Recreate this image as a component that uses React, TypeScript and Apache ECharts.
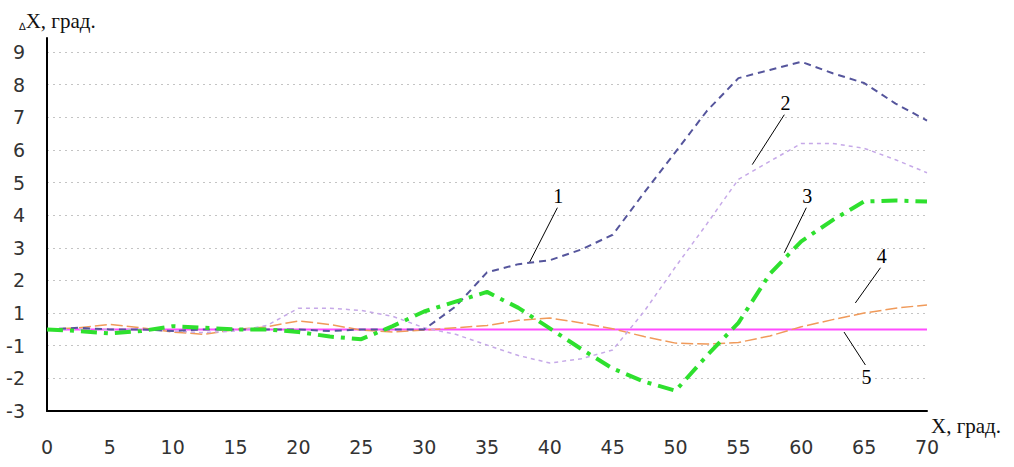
import React, { useEffect, useRef } from "react";
import * as echarts from "echarts";

// Shared x positions (degrees)
const xValues = [0, 2.5, 5, 7.5, 10, 12.5, 15, 17.5, 20, 22.5, 25, 27.5, 30, 32.5, 35, 37.5, 40, 42.5, 45, 47.5, 50, 52.5, 55, 57.5, 60, 62.5, 65, 67.5, 70];

// Values in the chart's internal scale (label "-1" = 0, "-2" = -1, "-3" = -2)
const curve1 = [0.5, 0.55, 0.5, 0.5, 0.45, 0.5, 0.5, 0.5, 0.5, 0.45, 0.5, 0.5, 0.5, 1.2, 2.25, 2.5, 2.62, 2.95, 3.4, 4.69, 5.94, 7.2, 8.2, 8.45, 8.7, 8.35, 8.05, 7.42, 6.9];
const curve2 = [0.5, 0.5, 0.5, 0.5, 0.45, 0.4, 0.45, 0.62, 1.15, 1.15, 1.08, 0.9, 0.55, 0.35, 0.02, -0.3, -0.53, -0.4, -0.13, 1.05, 2.42, 3.74, 5.1, 5.65, 6.2, 6.2, 6.05, 5.7, 5.3];
const curve3 = [0.5, 0.45, 0.38, 0.45, 0.6, 0.55, 0.5, 0.5, 0.42, 0.28, 0.2, 0.6, 1.05, 1.35, 1.65, 1.16, 0.53, -0.1, -0.7, -1.1, -1.38, -0.3, 0.7, 2.2, 3.2, 3.85, 4.42, 4.45, 4.42];
const curve4 = [0.5, 0.55, 0.65, 0.55, 0.42, 0.35, 0.5, 0.58, 0.76, 0.65, 0.48, 0.42, 0.48, 0.55, 0.62, 0.78, 0.85, 0.7, 0.52, 0.28, 0.08, 0.05, 0.1, 0.3, 0.58, 0.8, 1.0, 1.15, 1.25];
const zeroLineX = [0, 70];
const zeroLineY = [0.5, 0.5];

// Leader lines: [x1, y1, x2, y2] with label text at the second point
const leaderNames = ["1", "2", "3", "4", "5"];
const leaderLines = [
  [38.4, 2.57, 40.6, 4.23],
  [56.1, 5.55, 58.65, 7.08],
  [58.65, 2.85, 60.4, 4.23],
  [64.3, 1.31, 66.3, 2.39],
  [63.4, 0.42, 65.1, -0.59],
];

const yLabel = (v: number) => {
  if (Math.abs(v - Math.round(v)) > 1e-6) return "";
  return v >= 1 ? String(v) : String(v - 1);
};

const pairs = (xs: number[], ys: number[]) => xs.map((x, i) => [x, ys[i]]);

const leader = (i: number) => ({
  silent: true,
  symbol: ["none", "none"],
  lineStyle: { color: "#000", width: 1, type: "solid" },
  label: {
    show: true,
    position: "end",
    formatter: leaderNames[i],
    color: "#000",
    fontFamily: "Liberation Serif",
    fontSize: 20,
    distance: 2,
  },
  emphasis: { disabled: true },
  data: [[{ coord: [leaderLines[i][0], leaderLines[i][1]] }, { coord: [leaderLines[i][2], leaderLines[i][3]] }]],
});

export default function App() {
  const ref = useRef<HTMLDivElement>(null);
  useEffect(() => {
    if (!ref.current) return;
    const chart = echarts.init(ref.current, null, { renderer: "svg" });
    chart.setOption({
      animation: false,
      backgroundColor: "#fff",
      title: {
        text: "{d|∆}{m|X, град.}",
        left: 14,
        top: 5,
        textStyle: {
          fontWeight: "normal",
          rich: {
            d: { fontFamily: "DejaVu Sans", fontSize: 10, fontWeight: "normal", color: "#111", verticalAlign: "bottom" },
            m: { fontFamily: "Liberation Serif", fontSize: 21, fontWeight: "normal", color: "#111" },
          },
        },
      },
      grid: { left: 47, right: 87, top: 38, bottom: 56 },
      xAxis: {
        type: "value",
        min: 0,
        max: 70,
        interval: 5,
        axisLine: { show: true, onZero: false, lineStyle: { color: "#000", width: 2 } },
        axisTick: { show: false },
        splitLine: { show: false },
        axisLabel: { fontFamily: "DejaVu Sans", fontSize: 19, color: "#333", margin: 26 },
        name: "X, град.",
        nameLocation: "end",
        nameGap: 4,
        nameTextStyle: {
          fontFamily: "Liberation Serif",
          fontSize: 21,
          color: "#111",
          verticalAlign: "top",
          align: "left",
          padding: [4, 0, 0, 0],
        },
      },
      yAxis: {
        type: "value",
        min: -2,
        max: 9.43,
        interval: 1,
        axisLine: { show: true, onZero: false, lineStyle: { color: "#000", width: 2 } },
        axisTick: { show: false },
        axisLabel: {
          formatter: yLabel,
          fontFamily: "DejaVu Sans",
          fontSize: 19,
          color: "#333",
          margin: 22,
          showMaxLabel: false,
        },
        splitLine: {
          show: true,
          showMaxLine: false,
          showMinLine: false,
          lineStyle: { color: "#c4c4c4", width: 1, type: [2, 4] },
        },
      },
      series: [
        {
          name: "5",
          type: "line",
          data: pairs(zeroLineX, zeroLineY),
          symbol: "none",
          lineStyle: { color: "#ff4dff", width: 2, type: "solid" },
          z: 2,
          markLine: leader(4),
        },
        {
          name: "4",
          type: "line",
          data: pairs(xValues, curve4),
          symbol: "none",
          lineStyle: { color: "#f09a5a", width: 1.5, type: [12, 4] },
          z: 3,
          markLine: leader(3),
        },
        {
          name: "2",
          type: "line",
          data: pairs(xValues, curve2),
          symbol: "none",
          lineStyle: { color: "#c6a9e8", width: 1.5, type: [4, 4] },
          z: 3,
          markLine: leader(1),
        },
        {
          name: "1",
          type: "line",
          data: pairs(xValues, curve1),
          symbol: "none",
          lineStyle: { color: "#55559c", width: 2, type: [7, 5] },
          z: 4,
          markLine: leader(0),
        },
        {
          name: "3",
          type: "line",
          data: pairs(xValues, curve3),
          symbol: "none",
          lineStyle: { color: "#2ee02e", width: 4, type: [16, 7, 4, 7] },
          z: 5,
          markLine: leader(2),
        },
      ],
    });
    return () => chart.dispose();
  }, []);
  return (
    <div
      ref={ref}
      style={{ position: "fixed", left: 0, top: 0, width: 1014, height: 467, background: "#fff" }}
    />
  );
}
